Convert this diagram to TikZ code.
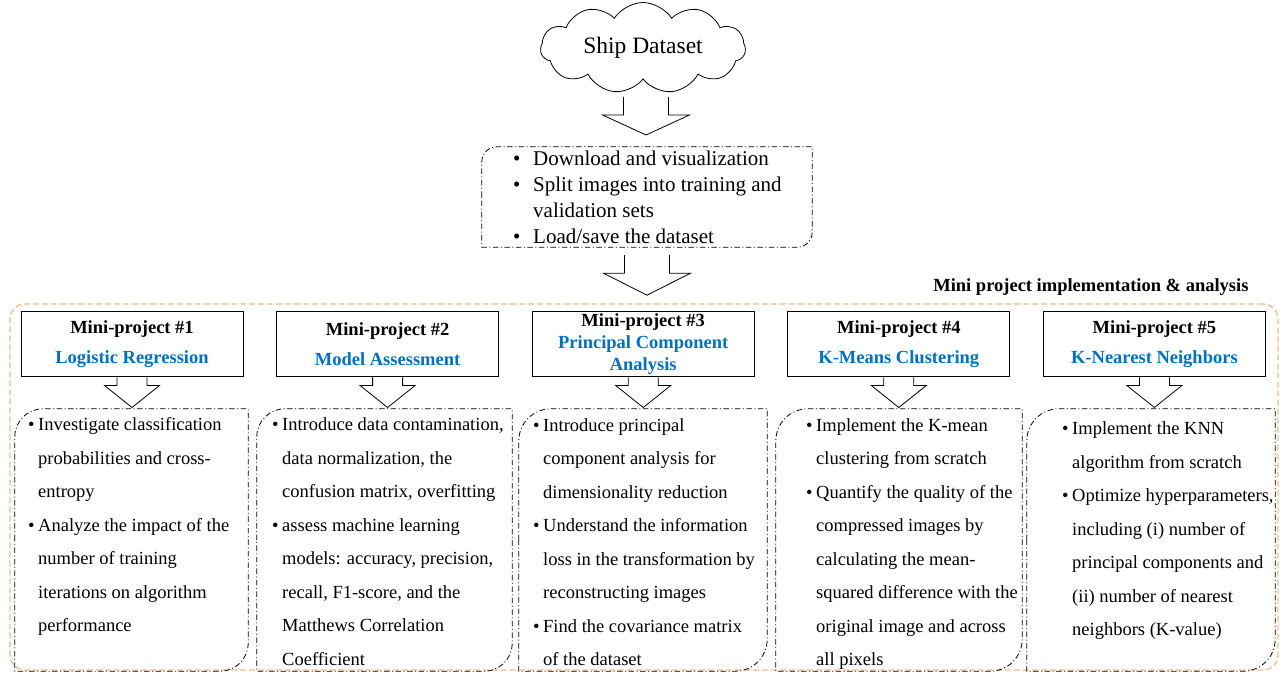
\documentclass[tikz,border=0pt]{standalone}
\usepackage{fontspec}
\setmainfont{Liberation Serif}
\usepackage{tikz}
\usetikzlibrary{shapes.symbols, positioning, calc}

\definecolor{projblue}{RGB}{0,112,192}
\definecolor{peach}{RGB}{246,185,140}

\newcommand{\fs}[2]{\fontsize{#1}{#2}\selectfont}
\newcommand{\bul}{\makebox[10pt][l]{\textbullet}}
\newcommand{\ind}{\hspace*{10pt}}
% box with round top-left and bottom-right corners
\newcommand{\cutbox}[2]{%
  \draw[ddline] [rounded corners=#2] (#1.west) |- (#1.north) [sharp corners] -| (#1.east)
    [rounded corners=#2] |- (#1.south) [sharp corners] -| (#1.west);}

\tikzset{
  cloudnode/.style={cloud, cloud puffs=11, cloud puff arc=115, aspect=2.5, draw=black, line width=0.8pt, minimum width=205pt, minimum height=84pt, inner sep=0pt, font=\fs{23.5}{28}},
  hdr/.style={rectangle, draw=black, line width=1pt, minimum width=222pt, minimum height=65pt, inner sep=0pt, align=center, font=\fs{18.5}{22}\bfseries},
  task/.style={rectangle, minimum height=262pt, inner sep=0pt},
  tasktext/.style={anchor=north west, inner sep=0pt, align=left, font=\fs{18.5}{33.5}},
  ddline/.style={draw=black, line width=0.8pt, dash pattern=on 5.5pt off 2.5pt on 1pt off 2.5pt},
  pics/fatarrow/.style n args={4}{code={
    \draw[fill=white, line width=0.8pt] (-#1,0) -- (-#1,-#2) -- (-#3,-#2) -- (0,-#4) -- (#3,-#2) -- (#1,-#2) -- (#1,0);}}
}

\begin{document}
\begin{tikzpicture}[x=1pt, y=1pt]
  \useasboundingbox (0,0) rectangle (1281,675);

  % frame around the mini projects
  \node (frame) [draw=peach, line width=1.3pt, dash pattern=on 6pt off 3pt, rounded corners=15pt, minimum width=1268pt, minimum height=366pt] at (644,188) {};
  \node (framelabel) [anchor=east, font=\fs{18.5}{22}\bfseries] at (1252,388) {Mini project implementation \& analysis};

  \node (ship) [cloudnode] at (643,627) {Ship Dataset};

  \node (prep) [rectangle, minimum width=330pt, minimum height=100pt, inner sep=0pt] at (647,478) {};
  \cutbox{prep}{15pt}
  \node (preptext) [anchor=north west, inner sep=0pt, align=left, font=\fs{21}{26}] at (513,524.5)
    {\makebox[20pt][l]{\textbullet}Download and visualization\\
     \makebox[20pt][l]{\textbullet}Split images into training and\\
     \hspace*{20pt}validation sets\\
     \makebox[20pt][l]{\textbullet}Load/save the dataset};

  \pic at ([xshift=3pt, yshift=-49pt]ship.center) {fatarrow={22.5}{18}{43.5}{38}};
  \pic at ([yshift=-8pt]prep.south) {fatarrow={22.5}{18}{43.5}{40}};

  % project headers
  \node (hdr1) [hdr] at (132,330.5) {Mini-project \#1\\[8pt]{\color{projblue}Logistic Regression}};
  \node (hdr2) [hdr] at (387.6,330.5) {Mini-project \#2\\[8pt]{\color{projblue}Model Assessment}};
  \node (hdr3) [hdr] at (643.2,330.5) {Mini-project \#3\\{\color{projblue}Principal Component}\\{\color{projblue}Analysis}};
  \node (hdr4) [hdr] at (898.8,330.5) {Mini-project \#4\\[8pt]{\color{projblue}K-Means Clustering}};
  \node (hdr5) [hdr] at (1154.4,330.5) {Mini-project \#5\\[8pt]{\color{projblue}K-Nearest Neighbors}};

  % project tasks
  \node (task1) [task, minimum width=233pt] at (131.5,135) {};
  \node (task2) [task, minimum width=255pt] at (384.5,135) {};
  \node (task3) [task, minimum width=248pt] at (643,135) {};
  \node (task4) [task, minimum width=246pt] at (899,135) {};
  \node (task5) [task, minimum width=248pt] at (1151,135) {};
  \cutbox{task1}{28pt}
  \cutbox{task2}{28pt}
  \cutbox{task3}{32pt}
  \cutbox{task4}{32pt}
  \cutbox{task5}{32pt}

  \pic at (hdr1.south) {fatarrow={15}{8}{27.5}{30}};
  \pic at (hdr2.south) {fatarrow={15}{8}{27.5}{30}};
  \pic at (hdr3.south) {fatarrow={15}{8}{27.5}{30}};
  \pic at (hdr4.south) {fatarrow={15}{8}{27.5}{30}};
  \pic at (hdr5.south) {fatarrow={15}{8}{27.5}{30}};

  \node (text1) [tasktext] at (28,257.5)
    {\bul Investigate classification\\ \ind probabilities and cross-\\ \ind entropy\\
     \bul Analyze the impact of the\\ \ind number of training\\ \ind iterations on algorithm\\ \ind performance};
  \node (text2) [tasktext] at (272,257.5)
    {\bul Introduce data contamination,\\ \ind data normalization, the\\ \ind confusion matrix, overfitting\\
     \bul assess machine learning\\ \ind models: accuracy, precision,\\ \ind recall, F1-score, and the\\ \ind Matthews Correlation\\ \ind Coefficient};
  \node (text3) [tasktext] at (533,257)
    {\bul Introduce principal\\ \ind component analysis for\\ \ind dimensionality reduction\\
     \bul Understand the information\\ \ind loss in the transformation by\\ \ind reconstructing images\\
     \bul Find the covariance matrix\\ \ind of the dataset};
  \node (text4) [tasktext] at (806,257)
    {\bul Implement the K-mean\\ \ind clustering from scratch\\
     \bul Quantify the quality of the\\ \ind compressed images by\\ \ind calculating the mean-\\ \ind squared difference with the\\ \ind original image and across\\ \ind all pixels};
  \node (text5) [tasktext] at (1062,253.5)
    {\bul Implement the KNN\\ \ind algorithm from scratch\\
     \bul Optimize hyperparameters,\\ \ind including (i) number of\\ \ind principal components and\\ \ind (ii) number of nearest\\ \ind neighbors (K-value)};
\end{tikzpicture}
\end{document}
